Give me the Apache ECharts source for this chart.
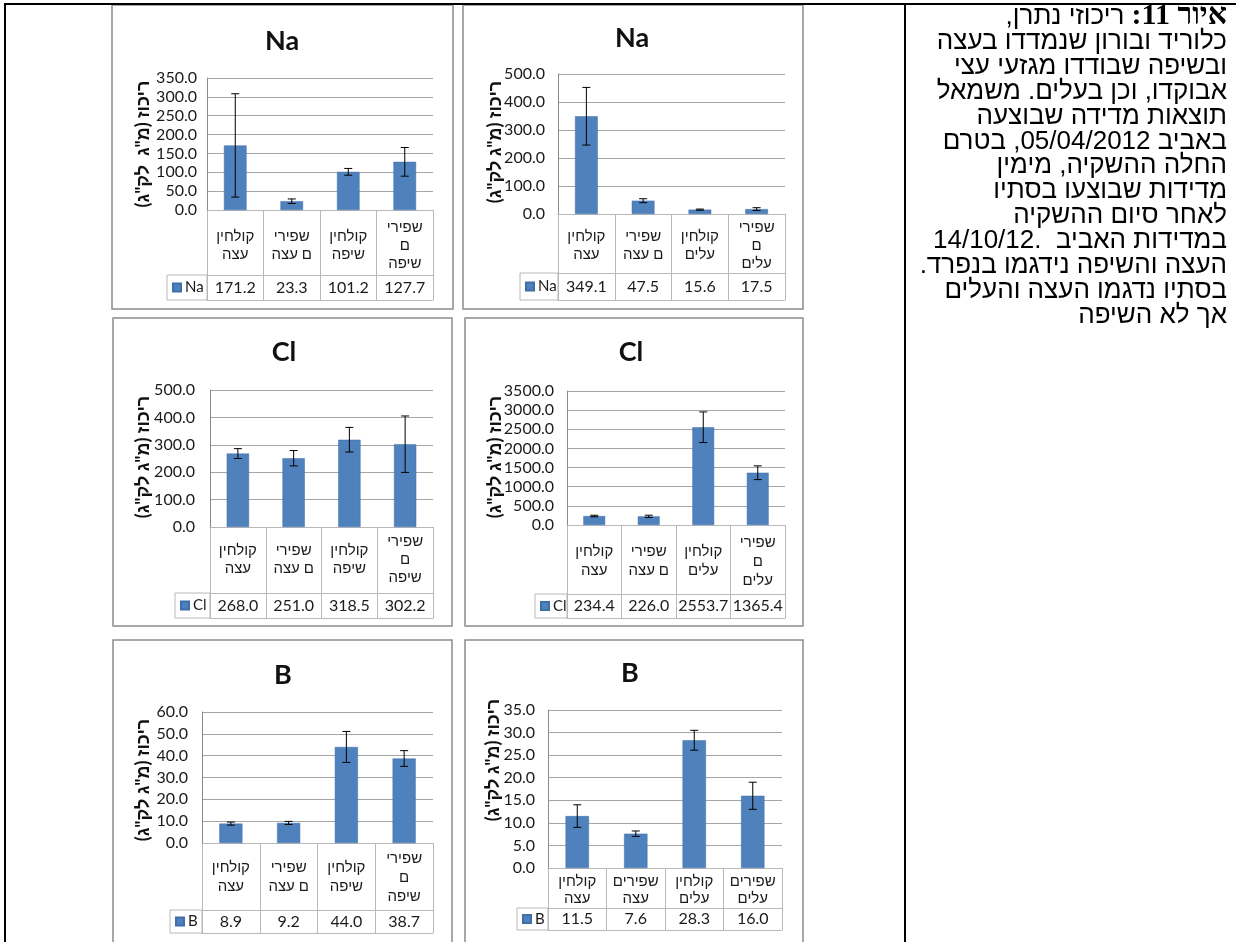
<!DOCTYPE html>
<html><head><meta charset="utf-8">
<script src="https://cdn.jsdelivr.net/npm/echarts@6/dist/echarts.min.js"></script>
<style>
html,body{margin:0;padding:0;background:#fff;}
#chart{position:absolute;left:0;top:0;width:1236px;height:942px;}
#chart canvas{direction:rtl;}
.ln{position:absolute;background:#000;}
#cap{position:absolute;top:2px;right:9px;width:322px;direction:rtl;text-align:right;font-family:'Liberation Sans',Arial,sans-serif;font-size:26px;line-height:24.9px;color:#000;white-space:nowrap;}
#cap b{font-family:'Liberation Serif','Times New Roman',serif;font-size:30px;}
</style></head><body>
<div id="chart"></div>
<div class="ln" style="left:4px;top:3px;width:1232px;height:2px"></div>
<div class="ln" style="left:4px;top:3px;width:2px;height:939px"></div>
<div class="ln" style="left:904px;top:3px;width:2px;height:939px"></div>
<div id="cap">
<div><b>איור 11:</b> ריכוזי נתרן,</div>
<div>כלוריד ובורון שנמדדו בעצה</div>
<div>ובשיפה שבודדו מגזעי עצי</div>
<div>אבוקדו, וכן בעלים. משמאל</div>
<div>תוצאות מדידה שבוצעה</div>
<div>באביב 05/04/2012, בטרם</div>
<div>החלה ההשקיה, מימין</div>
<div>מדידות שבוצעו בסתיו</div>
<div>לאחר סיום ההשקיה</div>
<div>במדידות האביב &nbsp;.14/10/12</div>
<div>העצה והשיפה נידגמו בנפרד.</div>
<div>בסתיו נדגמו העצה והעלים</div>
<div>אך לא השיפה</div>
</div>
<script>
// ---------- DATA ----------
const catsSpring = ['קולחין\nעצה', 'שפירי\nם עצה', 'קולחין\nשיפה', 'שפירי\nם\nשיפה'];
const catsAutumn = ['קולחין\nעצה', 'שפירי\nם עצה', 'קולחין\nעלים', 'שפירי\nם\nעלים'];
const catsAutumnB = ['קולחין\nעצה', 'שפירים\nעצה', 'קולחין\nעלים', 'שפירים\nעלים'];

const naSpring = [171.2, 23.3, 101.2, 127.7];
const naSpringErr = [137, 6, 9, 38];
const naAutumn = [349.1, 47.5, 15.6, 17.5];
const naAutumnErr = [103, 7, 2, 5];
const clSpring = [268.0, 251.0, 318.5, 302.2];
const clSpringErr = [18, 28, 45, 103];
const clAutumn = [234.4, 226.0, 2553.7, 1365.4];
const clAutumnErr = [20, 30, 400, 180];
const bSpring = [8.9, 9.2, 44.0, 38.7];
const bSpringErr = [0.7, 0.7, 7.1, 3.6];
const bAutumn = [11.5, 7.6, 28.3, 16.0];
const bAutumnErr = [2.5, 0.6, 2.2, 3.0];

const yTitle = 'ריכוז (מ"ג לק"ג)';
const yTitleNa = 'ריכוז (מ"ג  לק"ג)';

const charts = [
  {name:'Na', cats:catsSpring, vals:naSpring, errs:naSpringErr, max:350, step:50, ytitle:yTitleNa},
  {name:'Na', cats:catsAutumn, vals:naAutumn, errs:naAutumnErr, max:500, step:100, ytitle:yTitle},
  {name:'Cl', cats:catsSpring, vals:clSpring, errs:clSpringErr, max:500, step:100, ytitle:yTitle},
  {name:'Cl', cats:catsAutumn, vals:clAutumn, errs:clAutumnErr, max:3500, step:500, ytitle:yTitle},
  {name:'B', cats:catsSpring, vals:bSpring, errs:bSpringErr, max:60, step:10, ytitle:yTitle},
  {name:'B', cats:catsAutumnB, vals:bAutumn, errs:bAutumnErr, max:35, step:5, ytitle:yTitle}
];

// ---------- LAYOUT ----------
const layouts = [
  {box:[112,5,341,304], plot:[207,78,226,132], catH:65, rowH:25, legL:167, title:[282,41], yt:[143,144], lm:10, cm:35, lh:18},
  {box:[463,5,340,304], plot:[558,74,227,140], catH:59, rowH:27, legL:520, title:[632,38], yt:[495,142], lm:13, cm:31, lh:18},
  {box:[113,318,339,308], plot:[210,390,223,137], catH:66, rowH:25, legL:175, title:[284,352], yt:[143,457], lm:15, cm:32, lh:18},
  {box:[465,318,338,308], plot:[567,391,218,134], catH:69, rowH:24, legL:535, title:[631,352], yt:[495,457], lm:13, cm:36, lh:19},
  {box:[113,640,339,340], plot:[202,712,231,131], catH:67, rowH:23, legL:170, title:[283,675], yt:[143,780], lm:14, cm:34, lh:19},
  {box:[465,640,338,340], plot:[548,710,234,158], catH:40, rowH:22, legL:517, title:[630,673], yt:[493,760], lm:13, cm:22, lh:17}
];

const FONT = "Lato, 'Liberation Sans', 'DejaVu Sans', sans-serif";
const TXT = '#1a1a1a';
const TABLE = '#b8b8b8';
const GRIDC = '#a6a6a6';
const BAR = '#4f81bd';

function renderErr(params, api){
  const lo = api.coord([api.value(0), api.value(1)]);
  const hi = api.coord([api.value(0), api.value(2)]);
  const w = 4;
  const st = {stroke:'#000', lineWidth:1};
  return {type:'group', children:[
    {type:'line', shape:{x1:lo[0], y1:lo[1], x2:hi[0], y2:hi[1]}, style:st},
    {type:'line', shape:{x1:hi[0]-w, y1:hi[1], x2:hi[0]+w, y2:hi[1]}, style:st},
    {type:'line', shape:{x1:lo[0]-w, y1:lo[1], x2:lo[0]+w, y2:lo[1]}, style:st}
  ]};
}

const grid=[], xAxis=[], yAxis=[], series=[], legend=[], graphic=[];
charts.forEach((c, i) => {
  const L = layouts[i];
  grid.push({left:L.plot[0], top:L.plot[1], width:L.plot[2], height:L.plot[3], containLabel:false, outerBoundsMode:'none'});
  xAxis.push({
    type:'category', gridIndex:i, data:c.cats, position:'bottom',
    axisLine:{show:true, lineStyle:{color:TABLE, width:1}},
    axisTick:{show:true, length:L.catH + L.rowH, lineStyle:{color:TABLE, width:1}},
    axisLabel:{interval:0, margin:L.cm, verticalAlign:'middle', lineHeight:L.lh, fontSize:15, color:TXT, fontFamily:FONT},
    splitLine:{show:false}
  });
  xAxis.push({
    type:'category', gridIndex:i, data:c.vals.map(v => v.toFixed(1)), position:'bottom', offset:L.catH,
    axisLine:{show:true, lineStyle:{color:TABLE, width:1}},
    axisTick:{show:false},
    axisLabel:{interval:0, margin:L.rowH/2, verticalAlign:'middle', fontSize:16, color:TXT, fontFamily:FONT},
    splitLine:{show:false}
  });
  xAxis.push({
    type:'category', gridIndex:i, data:c.cats, position:'bottom', offset:L.catH + L.rowH,
    axisLine:{show:true, lineStyle:{color:TABLE, width:1}},
    axisTick:{show:false}, axisLabel:{show:false}, splitLine:{show:false}
  });
  yAxis.push({
    type:'value', gridIndex:i, min:0, max:c.max, interval:c.step,
    axisLine:{show:true, lineStyle:{color:'#8a8a8a', width:1}},
    axisTick:{show:false},
    axisLabel:{formatter:v => v.toFixed(1), fontSize:16, color:TXT, fontFamily:FONT, margin:L.lm},
    splitLine:{show:true, lineStyle:{color:GRIDC, width:1}}
  });
  series.push({
    type:'bar', name:c.name, xAxisIndex:3*i, yAxisIndex:i, data:c.vals,
    barCategoryGap:'60%', itemStyle:{color:BAR, borderColor:'#3f6fa8', borderWidth:0.5}, z:2
  });
  series.push({
    type:'custom', name:'err'+i, xAxisIndex:3*i, yAxisIndex:i,
    data:c.vals.map((v,k) => [k, v - c.errs[k], v + c.errs[k]]),
    encode:{x:0, y:[1,2]}, renderItem:renderErr, z:5, silent:true
  });
  const rowTop = L.plot[1] + L.plot[3] + L.catH;
  legend.push({
    data:[c.name], left:L.legL + 5, top:rowTop + L.rowH/2 - 8, padding:0, itemGap:0,
    icon:'rect', itemWidth:8, itemHeight:8, selectedMode:false,
    textStyle:{fontSize:15, color:TXT, fontFamily:FONT, lineHeight:16, padding:[0,0,0,-1]}
  });
  graphic.push({type:'rect', shape:{x:L.box[0], y:L.box[1], width:L.box[2], height:L.box[3]},
    style:{fill:'none', stroke:'#8c8c8c', lineWidth:1.5}, z:-1});
  graphic.push({type:'rect', shape:{x:L.legL, y:rowTop, width:L.plot[0]-L.legL, height:L.rowH},
    style:{fill:'none', stroke:TABLE, lineWidth:1}, z:1});
  graphic.push({type:'text', x:L.title[0], y:L.title[1],
    style:{text:c.name, fontSize:27, fontWeight:'bold', fontFamily:FONT, fill:'#111', align:'center', verticalAlign:'middle'}});
  graphic.push({type:'text', x:L.yt[0], y:L.yt[1], rotation:Math.PI/2,
    style:{text:c.ytitle, fontSize:18, fontWeight:'bold', fontFamily:FONT, fill:'#111', align:'center', verticalAlign:'middle'}});
});

const chart = echarts.init(document.getElementById('chart'), null, {renderer:'canvas', width:1236, height:942});
chart.setOption({
  animation:false, backgroundColor:'#fff',
  grid, xAxis, yAxis, series, legend, graphic
});
</script>
</body></html>
